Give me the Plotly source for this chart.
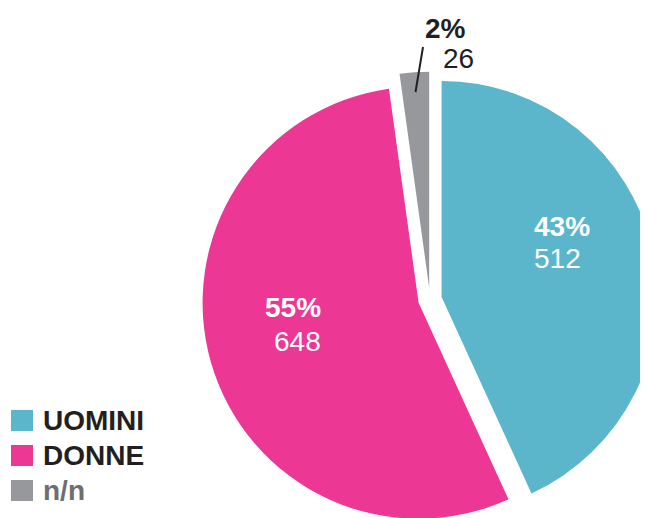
import plotly.graph_objects as go

# Figure is drawn a bit larger than the 648x518 window so that the pie is
# clipped at the right / bottom edges, as in the reference.
WF, HF = 700, 560
OFF = 8  # default page body margin

# ---- data ----
labels = ["UOMINI", "DONNE", "n/n"]
values = [512, 648, 26]
colors = ["#5BB6CC", "#EC3795", "#97989C"]
legend_text_colors = ["#231F20", "#231F20", "#6D6E71"]

total = sum(values)
percents = [round(v / total * 100) for v in values]

FONT = "Liberation Sans, Arial, sans-serif"


def px(sx):
    return (sx - OFF) / WF


def py(sy):
    return 1 - (sy - OFF) / HF


# pie geometry (screen pixels)
PULL = 0.055
R = 216
CX, CY = 430, 299.5
half = R * (1 + PULL)

fig = go.Figure()
fig.add_trace(go.Pie(
    labels=labels,
    values=values,
    sort=False,
    direction="clockwise",
    rotation=0,
    pull=[PULL] * len(values),
    marker=dict(colors=colors, line=dict(width=0)),
    textinfo="none",
    domain=dict(x=[px(CX - half), px(CX + half)],
                y=[py(CY + half), py(CY - half)]),
    showlegend=False,
    hoverinfo="skip",
))

shapes = []
annotations = []

# ---- slice labels ----
label_specs = [
    dict(i=0, px_=532, py_=226.5, vx=532, vy=259, anchor="left", color="white"),
    dict(i=1, px_=323, py_=307.5, vx=323, vy=341, anchor="right", color="white"),
    dict(i=2, px_=446, py_=28.5, vx=458.5, vy=58.5, anchor="center", color="#231F20"),
]
for s in label_specs:
    i = s["i"]
    annotations.append(dict(text=f"<b>{percents[i]}%</b>", xref="paper", yref="paper",
                            x=px(s["px_"]), y=py(s["py_"]), xanchor=s["anchor"],
                            yanchor="middle", showarrow=False,
                            font=dict(family=FONT, size=28, color=s["color"])))
    annotations.append(dict(text=f"{values[i]}", xref="paper", yref="paper",
                            x=px(s["vx"]), y=py(s["vy"]), xanchor=s["anchor"],
                            yanchor="middle", showarrow=False,
                            font=dict(family=FONT, size=28, color=s["color"])))

# leader line for the small slice
shapes.append(dict(type="line", xref="paper", yref="paper",
                   x0=px(423), y0=py(47), x1=px(415.5), y1=py(92),
                   line=dict(color="#231F20", width=2)))

# ---- legend (manual swatches) ----
row_y = [420.5, 455.5, 490.5]
for lab, col, tcol, yc in zip(labels, colors, legend_text_colors, row_y):
    shapes.append(dict(type="rect", xref="paper", yref="paper",
                       x0=px(11), x1=px(33), y0=py(yc + 10.5), y1=py(yc - 10.5),
                       fillcolor=col, line=dict(width=0)))
    annotations.append(dict(text=f"<b>{lab}</b>", xref="paper", yref="paper",
                            x=px(41), y=py(yc), xanchor="left", yanchor="middle",
                            showarrow=False,
                            font=dict(family=FONT, size=28, color=tcol)))

fig.update_layout(
    width=WF, height=HF,
    margin=dict(l=0, r=0, t=0, b=0),
    paper_bgcolor="white",
    plot_bgcolor="white",
    shapes=shapes,
    annotations=annotations,
    showlegend=False,
)

fig.write_html("out.html")
